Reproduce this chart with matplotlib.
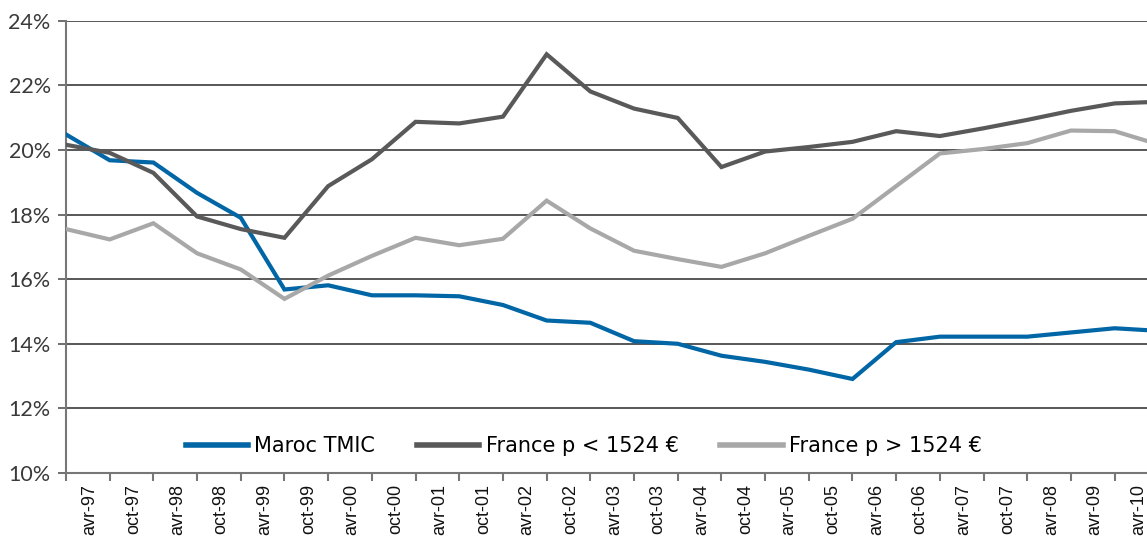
import matplotlib
matplotlib.use("Agg")
import matplotlib.pyplot as plt
import numpy as np

labels = ["avr-97", "oct-97", "avr-98", "oct-98", "avr-99", "oct-99", "avr-00", "oct-00",
          "avr-01", "oct-01", "avr-02", "oct-02", "avr-03", "oct-03", "avr-04", "oct-04",
          "avr-05", "oct-05", "avr-06", "oct-06", "avr-07", "oct-07", "avr-08", "avr-09", "avr-10"]

maroc = [20.48, 19.68, 19.61, 18.67, 17.90, 15.68, 15.81, 15.50, 15.50, 15.47, 15.20, 14.72,
         14.65, 14.08, 14.00, 13.63, 13.44, 13.20, 12.91, 14.05, 14.22, 14.22, 14.22, 14.35,
         14.48, 14.40]
france_low = [20.16, 19.91, 19.29, 17.94, 17.55, 17.28, 18.88, 19.71, 20.87, 20.82, 21.03, 22.96,
              21.81, 21.28, 20.99, 19.47, 19.95, 20.09, 20.25, 20.58, 20.43, 20.67, 20.93, 21.21,
              21.44, 21.49]
france_high = [17.55, 17.23, 17.73, 16.80, 16.30, 15.39, 16.11, 16.72, 17.28, 17.05, 17.25, 18.43,
               17.57, 16.88, 16.62, 16.38, 16.80, 17.34, 17.87, 18.88, 19.89, 20.03, 20.21, 20.60,
               20.58, 20.17]

series_names = ["Maroc TMIC", "France p < 1524 €", "France p > 1524 €"]
colors = ["#0066A6", "#595959", "#A8A8A8"]

fig = plt.figure(figsize=(11.47, 5.41), dpi=100)
ax = fig.add_axes([66 / 1147, 1 - 473 / 541, 1 - 66 / 1147, (473 - 20.7) / 541])

x = np.arange(len(maroc))
for vals, name, c in zip([maroc, france_low, france_high], series_names, colors):
    ax.plot(x, vals, color=c, lw=3.0, label=name, solid_joinstyle="miter", zorder=3)

ax.set_xlim(0, 24.74)
ax.set_ylim(10, 24)
ax.set_yticks(np.arange(10, 25, 2))
ax.set_yticklabels([f"{v}%" for v in range(10, 25, 2)], fontsize=15.5, color="#3a3a3a",
                   family="Lato")
ax.yaxis.grid(True, color="#2a2a2a", lw=1.1, zorder=1)
ax.set_axisbelow(True)

ax.set_xticks(np.arange(0, 25))
ax.set_xticklabels([])
ax.set_xticks(np.arange(len(labels)) + 0.55, minor=True)
ax.set_xticklabels(labels, minor=True, rotation=90, fontsize=13, family="Liberation Sans",
                   va="top", ha="center", color="#111111")
ax.tick_params(axis="x", which="major", length=6, width=1.5, color="#777777", direction="out")
ax.tick_params(axis="x", which="minor", length=0, pad=8)
ax.tick_params(axis="y", length=6, width=1.2, color="#555555", direction="out", pad=5)

for s in ["top", "right"]:
    ax.spines[s].set_visible(False)
ax.spines["left"].set_color("#777777")
ax.spines["left"].set_linewidth(1.5)
ax.spines["bottom"].set_color("#777777")
ax.spines["bottom"].set_linewidth(1.5)

leg = ax.legend(loc="center", bbox_to_anchor=(0.479, 0.06), ncol=3, frameon=False,
                prop={"family": "DejaVu Sans", "size": 15}, handlelength=3.0,
                handletextpad=0.3, columnspacing=2.0)
for line in leg.get_lines():
    line.set_linewidth(4)

fig.savefig("out.png", dpi=100)
